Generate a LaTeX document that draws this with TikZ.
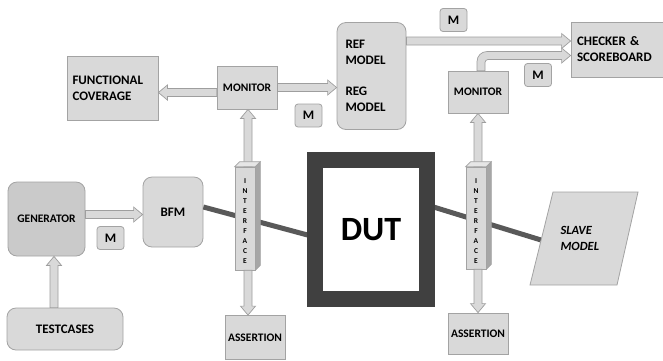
\documentclass[tikz,border=0pt]{standalone}
\usepackage{fontspec}
\setmainfont{Carlito}
\usetikzlibrary{calc}
\definecolor{boxfill}{HTML}{D9D9D9}
\definecolor{boxline}{HTML}{A3A3A3}
\definecolor{genfill}{HTML}{CACACA}
\definecolor{dutc}{HTML}{404040}
\definecolor{wirec}{HTML}{595959}
\definecolor{arrfill}{HTML}{D9D9D9}
\definecolor{arrline}{HTML}{9E9E9E}
\definecolor{topc}{HTML}{E6E6E6}
\definecolor{sidec}{HTML}{A6A6A6}
\tikzset{
  box/.style={draw=boxline, fill=boxfill, line width=0.8pt, inner sep=0pt,
    font=\bfseries\fontsize{13}{16}\selectfont},
  smalltext/.style={font=\bfseries\fontsize{11.5}{14}\selectfont},
  rbox/.style={box, rounded corners=9pt},
  mbox/.style={box, rounded corners=3pt, minimum width=27pt, minimum height=23pt},
  fat/.style={draw=arrline, fill=arrfill, line width=0.7pt, line join=miter},
  wire/.style={draw=wirec, line width=5pt},
  iface/.style={draw=boxline, fill=boxfill, line width=0.6pt, minimum width=20pt, inner sep=0pt},
  ifacetext/.style={font=\bfseries\fontsize{7.5}{10}\selectfont, align=center},
}
\newcommand\harrow[2]{\draw[fat] let \p1=#1, \p2=#2, \n1={(\x2-\x1)/abs(\x2-\x1)} in
  (\x1,{\y1+4pt}) -- ({\x2-(\n1)*9pt},{\y1+4pt}) -- ({\x2-(\n1)*9pt},{\y1+7.5pt})
  -- (\x2,\y1) -- ({\x2-(\n1)*9pt},{\y1-7.5pt}) -- ({\x2-(\n1)*9pt},{\y1-4pt})
  -- (\x1,{\y1-4pt}) -- cycle;}
\newcommand\varrow[2]{\draw[fat] let \p1=#1, \p2=#2, \n1={(\y2-\y1)/abs(\y2-\y1)} in
  ({\x1+4pt},\y1) -- ({\x1+4pt},{\y2-(\n1)*9pt}) -- ({\x1+7.5pt},{\y2-(\n1)*9pt})
  -- (\x1,\y2) -- ({\x1-7.5pt},{\y2-(\n1)*9pt}) -- ({\x1-4pt},{\y2-(\n1)*9pt})
  -- ({\x1-4pt},\y1) -- cycle;}
\begin{document}
\begin{tikzpicture}[x=1pt,y=-1pt]
\useasboundingbox[fill=white] (0,0) rectangle (663,360);

% nodes
\node[box, minimum width=91pt, minimum height=64pt, align=left, text width=80pt] (fc) at (112.5,88) {FUNCTIONAL\\COVERAGE};
\node[box, smalltext, minimum width=60pt, minimum height=43pt] (mon1) at (247,87.5) {MONITOR};
\node[mbox] (m1) at (308.5,115.5) {M};
\node[rbox, minimum width=69pt, minimum height=107pt, align=left, text width=52pt] (ref) at (371.5,76) {REF\\MODEL\\[15pt]REG\\MODEL};
\node[mbox] (m2) at (453.5,20) {M};
\node[box, minimum width=92pt, minimum height=55pt, align=left, text width=80pt] (chk) at (617,49.5) {CHECKER \&\\SCOREBOARD};
\node[mbox] (m3) at (538,75) {M};
\node[box, smalltext, minimum width=60pt, minimum height=42pt] (mon2) at (478,92) {MONITOR};
\node[rbox, smalltext, fill=genfill, minimum width=77pt, minimum height=74pt] (gen) at (46.5,219) {GENERATOR};
\node[rbox, minimum width=60pt, minimum height=70pt] (bfm) at (173,212) {BFM};
\node[mbox] (m4) at (110.5,238) {M};
\node[rbox, minimum width=116pt, minimum height=42pt] (tc) at (65,329) {TESTCASES};
\node[box, smalltext, minimum width=60pt, minimum height=44pt] (ass1) at (255,337.5) {ASSERTION};
\node[box, smalltext, minimum width=60pt, minimum height=41pt] (ass2) at (478,333.5) {ASSERTION};

% slave model
\coordinate (s1) at (553,192);
\coordinate (s2) at (638,192);
\coordinate (s3) at (617,285);
\coordinate (s4) at (530,285);
\coordinate (slin) at (541,240);

% wires
\draw[wire] ([yshift=5pt]bfm.east) -- (315,237) coordinate (dutin);
\draw[wire] (427,205) coordinate (dutout) -- (slin);

% fat arrows
\harrow{([yshift=4.5pt]gen.east)}{(bfm.west)}
\varrow{([xshift=-11pt]tc.north)}{(gen.south)}
\harrow{([yshift=-5pt]mon1.west)}{(fc.east)}
\harrow{(mon1.east)}{(ref.west)}
\harrow{(ref.east |- 0,41)}{([yshift=8.5pt]chk.west)}

\node[iface, minimum height=103pt] (if1) at (245,218.5) {};
\node[iface, minimum height=102pt] (if2) at (476,218) {};

\varrow{([xshift=3pt]if1.north)}{(mon1.south)}
\varrow{([xshift=3pt]if1.south)}{(ass1.north)}
\varrow{(if2.north -| mon2.south)}{(mon2.south)}
\varrow{(if2.south -| ass2.north)}{(ass2.north)}

% curved arrow from monitor to checker
\draw[fat] let \p1=([xshift=3pt]mon2.north), \p2=([yshift=-6pt]chk.west) in
  ({\x1-4pt},\y1) [rounded corners=10pt] -- ({\x1-4pt},{\y2+4pt}) [sharp corners]
  -- ({\x2-9pt},{\y2+4pt}) -- ({\x2-9pt},{\y2+7.5pt}) -- (\x2,\y2)
  -- ({\x2-9pt},{\y2-7.5pt}) -- ({\x2-9pt},{\y2-4pt}) [rounded corners=3pt]
  -- ({\x1+4pt},{\y2-4pt}) [sharp corners] -- ({\x1+4pt},\y1) -- cycle;

% interface prisms
\foreach \n in {if1,if2}{
  \draw[draw=boxline, fill=topc, line width=0.6pt] (\n.north west) -- ++(5pt,5pt) -- ([shift={(5pt,5pt)}]\n.north east) -- (\n.north east) -- cycle;
  \draw[draw=boxline, fill=sidec, line width=0.6pt] (\n.north east) -- ++(5pt,5pt) -- ([shift={(5pt,5pt)}]\n.south east) -- (\n.south east) -- cycle;
  \node[ifacetext] at ([yshift=-3pt]\n.center) {I\\N\\T\\E\\R\\F\\A\\C\\E};
}

% DUT
\node[draw=dutc, fill=white, line width=16pt, minimum width=112pt, minimum height=139pt,
  font=\bfseries\fontsize{34}{40}\selectfont] (dut) at (371,229.5) {DUT};

% slave model shape
\draw[draw=boxline, fill=boxfill, line width=0.8pt] (s1) -- (s2) -- (s3) -- (s4) -- cycle;
\node[font=\bfseries\itshape\fontsize{12.5}{16}\selectfont, align=left, anchor=west] (slave) at (557,238) {SLAVE\\MODEL};
\end{tikzpicture}
\end{document}
